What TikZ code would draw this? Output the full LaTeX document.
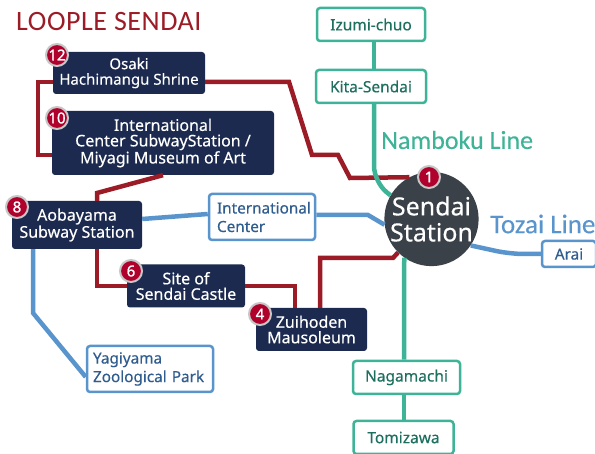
\documentclass[tikz,border=0pt]{standalone}
\usepackage{fontspec}
\setmainfont{Noto Sans}[FakeBold=0.35]
\newfontfamily\linefont{Carlito}[FakeBold=0.25]
\newfontfamily\titlefont{Carlito}[LetterSpace=2]
\newfontfamily\badgefont{Noto Sans}[FakeBold=1.2]
\usetikzlibrary{calc}
\definecolor{navybox}{HTML}{1C2A50}
\definecolor{redline}{HTML}{9B1C26}
\definecolor{badgered}{HTML}{B0002C}
\definecolor{blueline}{HTML}{5A94CC}
\definecolor{bluetext}{HTML}{2F5D8F}
\definecolor{greenline}{HTML}{3FB398}
\definecolor{greentext}{HTML}{1D6F5F}
\definecolor{hubgrey}{HTML}{3B4149}

\begin{document}
\begin{tikzpicture}[x=1pt,y=-1pt,
    stop node/.style={fill=navybox,text=white,rounded corners=3pt,align=center,inner sep=0pt,font=\fontsize{16}{15.5}\selectfont},
    blue node/.style={draw=blueline,line width=2.5pt,fill=white,text=bluetext,rounded corners=3pt,align=left,inner sep=0pt,font=\fontsize{15.3}{18.5}\selectfont},
    green node/.style={draw=greenline,line width=2.5pt,fill=white,text=greentext,rounded corners=3pt,inner sep=0pt,font=\fontsize{15.5}{16}\selectfont},
    badge node/.style={circle,fill=badgered,draw=black!22,line width=2pt,text=white,minimum size=22pt,inner sep=0pt,font=\badgefont\fontsize{15}{15}\selectfont},
    red line/.style={draw=redline,line width=4.5pt},
    blue line/.style={draw=blueline,line width=4.5pt},
    green line/.style={draw=greenline,line width=4.5pt}]

  \useasboundingbox (0,0) rectangle (595,454);

  \node[text=redline,anchor=west,inner sep=0pt,font=\titlefont\fontsize{28}{28}\selectfont] (title) at (16,22) {LOOPLE SENDAI};

  \node[stop node,minimum width=152pt,minimum height=42pt,font=\fontsize{15}{15.5}\selectfont] (osaki) at (129,73) {Osaki\\Hachimangu Shrine};
  \node[stop node,minimum width=222pt,minimum height=64pt] (center) at (163,143) {International\\Center SubwayStation /\\Miyagi Museum of Art};
  \node[stop node,minimum width=130pt,minimum height=48pt] (aobayama) at (77,225) {Aobayama\\Subway Station};
  \node[stop node,minimum width=118pt,minimum height=43pt] (castle) at (186,286) {Site of\\Sendai Castle};
  \node[stop node,minimum width=111pt,minimum height=43pt] (zuihoden) at (311.5,329.5) {Zuihoden\\Mausoleum};

  \node[blue node,minimum width=106pt,minimum height=46pt,text width=90pt] (intl) at (262,217) {International\\Center};
  \node[blue node,minimum width=126pt,minimum height=46pt,text width=114pt] (yagiyama) at (150,369) {Yagiyama\\Zoological Park};
  \node[blue node,minimum width=54pt,minimum height=26pt,align=center] (arai) at (569,254) {Arai};

  \node[green node,minimum width=108pt,minimum height=33pt] (izumi) at (371,24.5) {Izumi-chuo};
  \node[green node,minimum width=110pt,minimum height=33pt] (kita) at (371,86.5) {Kita-Sendai};
  \node[green node,minimum width=107pt,minimum height=33pt] (nagamachi) at (406.5,377.5) {Nagamachi};
  \node[green node,minimum width=100pt,minimum height=33pt] (tomizawa) at (403.5,437.5) {Tomizawa};

  \node[circle,fill=hubgrey,text=white,minimum size=93pt,inner sep=0pt,align=center,font=\fontsize{25}{26}\selectfont] (sendai) at (431.5,219) {Sendai\\Station};

  \node[text=greenline,anchor=west,inner sep=0pt,font=\linefont\fontsize{26}{26}\selectfont] (namboku) at (381,140) {Namboku Line};
  \node[text=blueline,anchor=west,inner sep=0pt,font=\linefont\fontsize{27}{27}\selectfont] (tozai) at (490,224) {Tozai Line};

  \draw[red line] ([yshift=-9pt]osaki.east) -- (289,82) -- (312,155) -- (338,155) -- (350,178) -- (sendai.118);
  \draw[red line] ([yshift=-9pt]osaki.west) -- (38,82) -- (38,155) -- ([yshift=-12pt]center.west);
  \draw[red line] (center.south) -- (97,193) -- ([xshift=20pt]aobayama.north);
  \draw[red line] ([xshift=20pt]aobayama.south) -- (97,286) -- (castle.west);
  \draw[red line] (castle.east) -- (295,286) -- ([xshift=-16.5pt]zuihoden.north);
  \draw[red line] ([xshift=8.5pt]zuihoden.north) -- (320,258) -- (393,258) -- (sendai.225);

  \draw[blue line] ([yshift=6pt]aobayama.east) -- ([yshift=3pt]intl.west);
  \draw[blue line] ([yshift=2pt]intl.east) -- (368,215) -- (sendai.187);
  \draw[blue line] ([xshift=-44pt]aobayama.south) -- (33,313) -- ([yshift=-8pt]yagiyama.west);
  \draw[blue line,rounded corners=14pt] (sendai.-34) -- (510,254) -- (arai.west);

  \draw[green line] ([xshift=3pt]izumi.south) -- ([xshift=3pt]kita.north);
  \draw[green line,rounded corners=16pt] ([xshift=3pt]kita.south) -- (374,182) -- (sendai.150);
  \draw[green line,rounded corners=8pt] (sendai.-125) -- (404,270) -- ([xshift=-2.5pt]nagamachi.north);
  \draw[green line] ([xshift=-2.5pt]nagamachi.south) -- ([xshift=0.5pt]tomizawa.north);

  \node[badge node] (b12) at (57,55) {12};
  \node[badge node] (b10) at (57,118) {10};
  \node[badge node] (b8) at (17,207) {8};
  \node[badge node] (b6) at (131,271) {6};
  \node[badge node] (b4) at (260,314) {4};
  \node[badge node] (b1) at (429,177) {1};

\end{tikzpicture}
\end{document}
